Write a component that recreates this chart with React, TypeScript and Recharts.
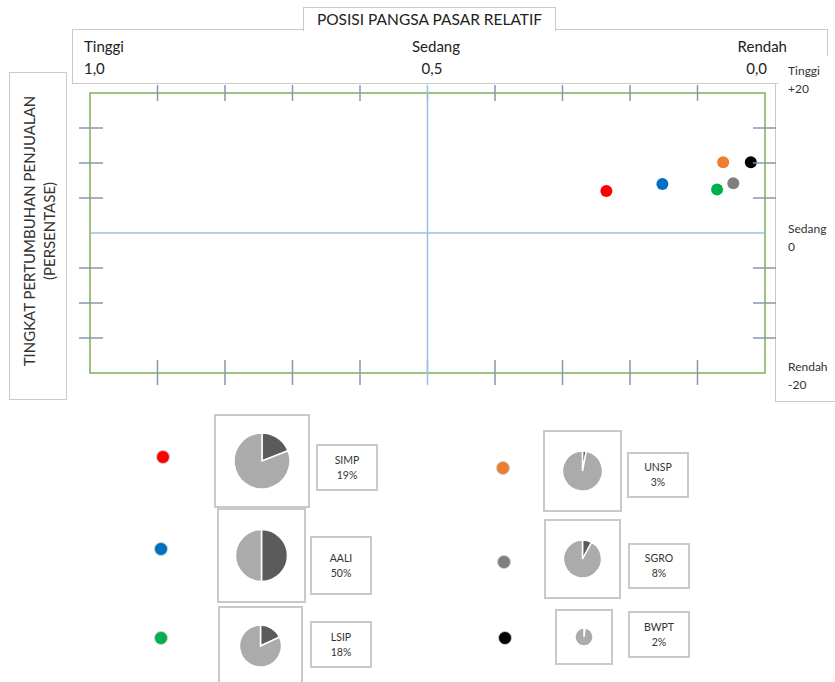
import React from 'react'
import {
  ScatterChart,
  Scatter,
  XAxis,
  YAxis,
  ReferenceLine,
  ReferenceArea,
  PieChart,
  Pie,
  Cell,
} from 'recharts'

// data
const companies     = ['SIMP', 'AALI', 'LSIP', 'UNSP', 'SGRO', 'BWPT']
const relativeShare = [0.235, 0.152, 0.071, 0.062, 0.047, 0.021]
const salesGrowth   = [6.0, 7.0, 6.2, 10.1, 7.1, 10.1]
const marketShare   = [19, 50, 18, 3, 8, 2]
const dotColors     = ['#FF0000', '#0070C0', '#00B050', '#ED7D31', '#7F7F7F', '#000000']

const shareTicks  = [0.1, 0.2, 0.3, 0.4, 0.5, 0.6, 0.7, 0.8, 0.9]
const growthTicks = [-15, -10, -5, 5, 10, 15]
const topLabels   = [['Tinggi', '1,0'], ['Sedang', '0,5'], ['Rendah', '0,0']]
const sideLabels  = [['Tinggi', '+20'], ['Sedang', '0'], ['Rendah', '-20']]

// layout
const PLOT = { left: 90, top: 93, right: 765, bottom: 373 }
const GREEN = '#7DAE5C'
const BLUE = '#9BBFE3'
const TICK = '#8499AE'
const BOX = '#C9C9C9'
const FONT = 'Lato, "Open Sans", sans-serif'
const DARK = '#5B5B5B'
const LIGHT = '#ABABAB'

// [x of first line, x of second line], anchor
const topLabelPos: { x: [number, number]; align: 'left' | 'center' | 'right' }[] = [
  { x: [84, 84], align: 'left' },
  { x: [436, 432], align: 'center' },
  { x: [787, 767], align: 'right' },
]
const sideLabelTop = [62, 220, 358]

// pie box, label box and dot for each company
const legendLayout = [
  { dot: [163, 457], box: [214, 414, 96, 94], r: 28, label: [316, 444, 62, 47] },
  { dot: [161, 549], box: [217, 508, 89, 95], r: 26, label: [310, 536, 62, 59] },
  { dot: [161, 638], box: [218, 606, 85, 80], r: 21, label: [310, 621, 62, 47] },
  { dot: [503, 468], box: [543, 430, 79, 82], r: 20, label: [627, 452, 62, 46] },
  { dot: [504, 562], box: [544, 519, 77, 80], r: 19, label: [628, 543, 62, 46] },
  { dot: [505, 638], box: [555, 609, 58, 56], r: 9,  label: [628, 611, 62, 47] },
]

const abs = (left: number, top: number, width?: number, height?: number): React.CSSProperties => ({
  position: 'absolute', left, top, width, height, boxSizing: 'border-box',
})

// one x tick draws the mark on both the top and bottom edge of the frame
const ShareTick = (props: any) => {
  const { x, payload } = props
  const c = payload.value === 0.5 ? BLUE : TICK
  return (
    <g>
      <line x1={x} x2={x} y1={PLOT.top - 8} y2={PLOT.top + 8} stroke={c} strokeWidth={1.5} />
      <line x1={x} x2={x} y1={PLOT.bottom - 13} y2={PLOT.bottom + 12} stroke={c} strokeWidth={1.5} />
    </g>
  )
}
// same for y: left and right edge
const GrowthTick = (props: any) => (
  <g>
    <line x1={PLOT.left - 11} x2={PLOT.left + 13} y1={props.y} y2={props.y} stroke={TICK} strokeWidth={1.5} />
    <line x1={PLOT.right - 12} x2={PLOT.right + 11} y1={props.y} y2={props.y} stroke={TICK} strokeWidth={1.5} />
  </g>
)

function Matrix() {
  // axes get 1px each so recharts still draws their ticks
  return (
    <ScatterChart
      width={835}
      height={400}
      margin={{ top: PLOT.top, left: PLOT.left - 1, right: 835 - PLOT.right, bottom: 400 - PLOT.bottom - 1 }}
      style={{ position: 'absolute', left: 0, top: 0 }}
    >
      <XAxis dataKey="share" type="number" domain={[0, 1]} reversed height={1}
        ticks={shareTicks} interval={0} axisLine={false} tickLine={false} tick={ShareTick} />
      <YAxis dataKey="growth" type="number" domain={[-20, 20]} width={1}
        ticks={growthTicks} interval={0} axisLine={false} tickLine={false} tick={GrowthTick} />
      <ReferenceLine x={0.5} stroke={BLUE} strokeWidth={1.5} />
      <ReferenceLine y={0} stroke={BLUE} strokeWidth={1.5} />
      <ReferenceArea x1={0} x2={1} y1={-20} y2={20} fill="none" fillOpacity={0}
        stroke={GREEN} strokeWidth={1.5} strokeOpacity={1} />
      {companies.map((c, i) => (
        <Scatter
          key={c}
          name={c}
          data={[{ share: relativeShare[i], growth: salesGrowth[i] }]}
          fill={dotColors[i]}
          isAnimationActive={false}
          shape={(p: any) => <circle cx={p.cx} cy={p.cy} r={6} fill={dotColors[i]} />}
        />
      ))}
    </ScatterChart>
  )
}

function ShareItem({ i }: { i: number }) {
  const l = legendLayout[i]
  const [bx, by, bw, bh] = l.box
  const [lx, ly, lw, lh] = l.label
  const pieData = [
    { name: companies[i], value: marketShare[i] },
    { name: 'lain', value: 100 - marketShare[i] },
  ]
  return (
    <>
      <div style={{
        ...abs(l.dot[0] - 7, l.dot[1] - 7, 14, 14),
        borderRadius: '50%', background: dotColors[i], border: '1.5px solid #CFCFCF',
      }} />
      <div style={{ ...abs(bx, by, bw, bh), border: `2px solid ${BOX}`, background: '#fff' }} />
      <div style={abs(bx, by, bw, bh)}>
        <PieChart width={bw} height={bh} margin={{ top: 0, right: 0, bottom: 0, left: 0 }}>
          <Pie
            data={pieData}
            dataKey="value"
            cx={bw / 2}
            cy={bh / 2}
            outerRadius={l.r}
            startAngle={90}
            endAngle={-270}
            stroke="#fff"
            strokeWidth={1.5}
            isAnimationActive={false}
          >
            <Cell fill={DARK} />
            <Cell fill={LIGHT} />
          </Pie>
        </PieChart>
      </div>
      <div style={{
        ...abs(lx, ly, lw, lh), border: `2px solid ${BOX}`, display: 'flex', flexDirection: 'column',
        alignItems: 'center', justifyContent: 'center', fontSize: 10.5, lineHeight: '15px', color: '#333',
      }}>
        <div>{companies[i]}</div>
        <div>{marketShare[i]}%</div>
      </div>
    </>
  )
}

function HeadLabel({ text, x, top, align }: { text: string; x: number; top: number; align: string }) {
  const style: React.CSSProperties =
    align === 'left' ? { left: x }
      : align === 'right' ? { right: 835 - x }
        : { left: x, transform: 'translateX(-50%)' }
  return (
    <div style={{ position: 'absolute', top, ...style, fontSize: 15, lineHeight: '22px', whiteSpace: 'nowrap' }}>
      {text}
    </div>
  )
}

export default function App() {
  return (
    <div style={{ position: 'absolute', left: 0, top: 0, width: 835, height: 682, overflow: 'hidden',
      background: '#fff', fontFamily: FONT, color: '#222' }}>
      {/* header boxes */}
      <div style={{ ...abs(72, 29, 756, 55), border: `1.5px solid ${BOX}` }} />
      <div style={{ ...abs(303, 7, 253, 23.5), border: `1.5px solid ${BOX}`, borderBottom: 'none',
        background: '#fff', fontSize: 15.5, lineHeight: '22px', textAlign: 'center' }}>
        POSISI PANGSA PASAR RELATIF
      </div>
      {topLabels.map(([a, b], i) => (
        <React.Fragment key={a}>
          <HeadLabel text={a} x={topLabelPos[i].x[0]} top={35} align={topLabelPos[i].align} />
          <HeadLabel text={b} x={topLabelPos[i].x[1]} top={57} align={topLabelPos[i].align} />
        </React.Fragment>
      ))}

      {/* left axis title */}
      <div style={{ ...abs(9, 72, 58, 328), border: `1.5px solid ${BOX}` }} />
      <div style={{ position: 'absolute', left: 39, top: 231, transform: 'translate(-50%, -50%) rotate(-90deg)',
        whiteSpace: 'nowrap', textAlign: 'center', fontSize: 15, lineHeight: '20px', color: '#333' }}>
        <div>TINGKAT PERTUMBUHAN PENJUALAN</div>
        <div>(PERSENTASE)</div>
      </div>

      {/* right axis labels */}
      <div style={{ ...abs(778, 56, 60, 28), background: '#fff' }} />
      <div style={{ ...abs(775, 83, 80, 319), borderLeft: `1.5px solid ${BOX}`, borderBottom: `1.5px solid ${BOX}` }} />
      {sideLabels.map(([a, b], i) => (
        <div key={a} style={{ position: 'absolute', left: 788, top: sideLabelTop[i], fontSize: 12,
          lineHeight: '18px', color: '#333' }}>
          <div>{a}</div>
          <div>{b}</div>
        </div>
      ))}

      <Matrix />

      {companies.map((c, i) => <ShareItem key={c} i={i} />)}
    </div>
  )
}
